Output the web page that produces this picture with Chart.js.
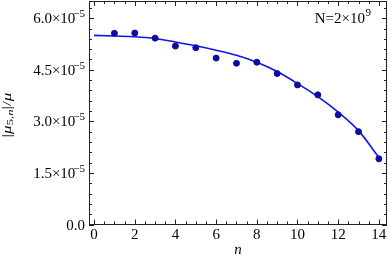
<!DOCTYPE html>
<html>
<head>
<meta charset="utf-8">
<script src="https://cdn.jsdelivr.net/npm/chart.js@4/dist/chart.umd.min.js"></script>
<style>
  body { margin: 0; background: #fff; }
  #wrap { width: 390px; height: 262px; }
</style>
</head>
<body>
<div id="wrap"><canvas id="chart" width="390" height="262"></canvas></div>
<script>
// 데이터 (값은 10^-5 단위)
const nPoints = [1, 2, 3, 4, 5, 6, 7, 8, 9, 10, 11, 12, 13, 14];
const muPoints = [5.56, 5.57, 5.42, 5.19, 5.14, 4.84, 4.69, 4.72, 4.39, 4.06, 3.77, 3.19, 2.70, 1.91];
const nFit = [0, 1, 2, 3, 4, 5, 6, 7, 8, 9, 10, 11, 12, 13, 14];
const muFit = [5.50, 5.48, 5.46, 5.41, 5.31, 5.20, 5.07, 4.92, 4.72, 4.45, 4.10, 3.72, 3.27, 2.73, 1.95];
const xTicks = [0, 2, 4, 6, 8, 10, 12, 14];
const yTicks = [0, 1.5, 3.0, 4.5, 6.0];
const yExp = '-5';

const serif = '"Liberation Serif", "DejaVu Serif", serif';

// 프레임, 안쪽 눈금, 라벨 그리기
const framePlugin = {
    id: 'frame',
    afterDraw(chart) {
        const ctx = chart.ctx;
        const a = chart.chartArea;
        const xs = chart.scales.x, ys = chart.scales.y;
        ctx.save();
        ctx.strokeStyle = '#222';
        ctx.lineWidth = 1;
        ctx.strokeRect(Math.round(a.left) + 0.5, Math.round(a.top) + 0.5,
                       Math.round(a.right - a.left) - 1, Math.round(a.bottom - a.top) - 1);

        function tick(x1, y1, x2, y2) {
            ctx.beginPath(); ctx.moveTo(x1, y1); ctx.lineTo(x2, y2); ctx.stroke();
        }
        // x 눈금 (minor 0.5)
        for (let v = 0; v <= 14.001; v += 0.5) {
            const px = Math.round(xs.getPixelForValue(v)) + 0.5;
            const len = (Math.abs(v % 2) < 0.01) ? 5 : 3;
            tick(px, a.bottom, px, a.bottom - len);
            tick(px, a.top, px, a.top + len);
        }
        // y 눈금 (minor 0.3)
        for (let i = 0; i <= 21; i++) {
            const v = i * 0.3;
            if (v > ys.max) break;
            const py = Math.round(ys.getPixelForValue(v)) + 0.5;
            const len = (i % 5 === 0) ? 5 : 3;
            tick(a.left, py, a.left + len, py);
            tick(a.right, py, a.right - len, py);
        }

        ctx.fillStyle = '#000';
        // x 라벨
        ctx.font = '15px ' + serif;
        ctx.textAlign = 'center';
        ctx.textBaseline = 'alphabetic';
        xTicks.forEach(v => {
            ctx.fillText(String(v), xs.getPixelForValue(v), a.bottom + 14);
        });
        // y 라벨
        ctx.textAlign = 'right';
        yTicks.forEach(v => {
            const py = ys.getPixelForValue(v) + 5;
            const rx = a.left - 4;
            if (v === 0) {
                ctx.font = '15px ' + serif;
                ctx.fillText('0.0', rx, py);
            } else {
                ctx.font = '11px ' + serif;
                const ew = ctx.measureText(yExp).width;
                ctx.fillText(yExp.replace('-', '\u2212'), rx, py - 6);
                ctx.font = '15px ' + serif;
                ctx.fillText(v.toFixed(1) + '\u00d710', rx - ew - 0.5, py);
            }
        });
        // 축 제목
        ctx.font = 'italic 15px ' + serif;
        ctx.textAlign = 'center';
        ctx.fillText('n', (a.left + a.right) / 2, 254);

        ctx.save();
        ctx.translate(11, 115);
        ctx.rotate(-Math.PI / 2);
        ctx.scale(1.15, 0.8);
        ctx.textAlign = 'left';
        const parts = [
            ['|', '15px', 0], ['\u03bc', 'italic 15px', 0], ['5,', '11px', 3], ['n', 'italic 11px', 3],
            ['|/', '15px', 0], ['\u03bc', 'italic 15px', 0]
        ];
        let total = 0;
        parts.forEach(p => { ctx.font = p[1] + ' ' + serif; total += ctx.measureText(p[0]).width; });
        let cx = -total / 2;
        parts.forEach(p => {
            ctx.font = p[1] + ' ' + serif;
            ctx.fillText(p[0], cx, p[2]);
            cx += ctx.measureText(p[0]).width;
        });
        ctx.restore();

        // N 표시
        ctx.textAlign = 'left';
        ctx.font = '15px ' + serif;
        const txt = 'N=2\u00d710';
        const tw = ctx.measureText(txt).width;
        ctx.font = '11px ' + serif;
        const sw = ctx.measureText('9').width;
        const sx = 371 - sw - tw - 0.5;
        ctx.font = '15px ' + serif;
        ctx.fillText(txt, sx, 22.5);
        ctx.font = '11px ' + serif;
        ctx.fillText('9', sx + tw + 0.5, 16);
        ctx.restore();
    }
};

const config = {
    type: 'scatter',
    data: {
        datasets: [{
            label: 'fit',
            data: nFit.map((n, i) => ({ x: n, y: muFit[i] })),
            showLine: true,
            borderColor: '#1414e6',
            borderWidth: 1.6,
            pointRadius: 0,
            cubicInterpolationMode: 'monotone',
            order: 2
        }, {
            label: 'data',
            data: nPoints.map((n, i) => ({ x: n, y: muPoints[i] })),
            backgroundColor: '#0c0ca4',
            borderColor: '#0c0ca4',
            pointRadius: 3,
            order: 1
        }]
    },
    options: {
        responsive: false,
        animation: false,
        layout: { autoPadding: false, padding: { top: 1, right: 3, left: 0, bottom: 0 } },
        plugins: { legend: { display: false }, tooltip: { enabled: false } },
        scales: {
            x: {
                type: 'linear',
                min: -0.25,
                max: 14.4,
                grid: { display: false },
                border: { display: false },
                ticks: { display: false },
                afterFit: s => { s.height = 37.5; }
            },
            y: {
                type: 'linear',
                min: 0,
                max: 6.5,
                grid: { display: false },
                border: { display: false },
                ticks: { display: false },
                afterFit: s => { s.width = 89; }
            }
        }
    },
    plugins: [framePlugin]
};

const muChart = new Chart(document.getElementById('chart'), config);
</script>
</body>
</html>
